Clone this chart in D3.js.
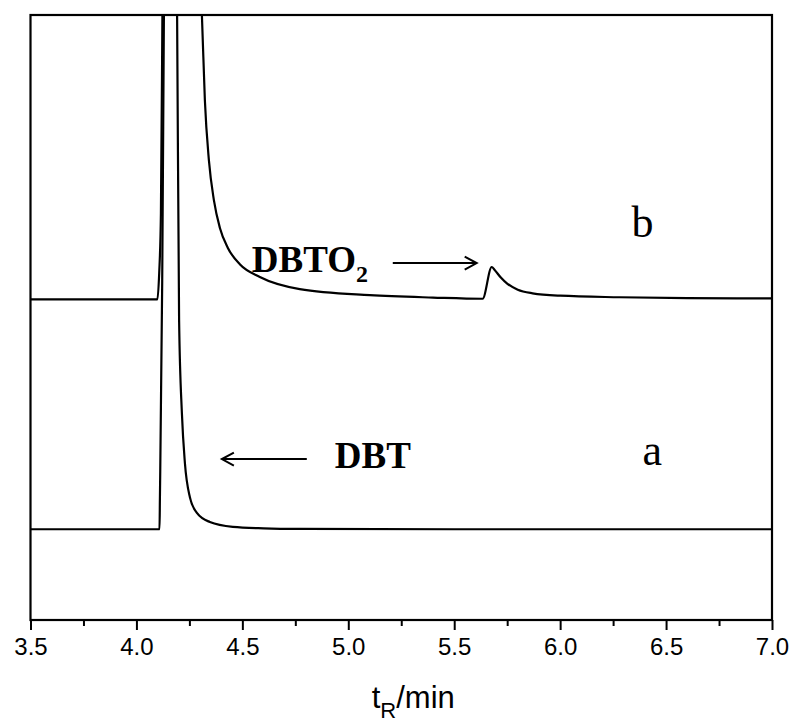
<!DOCTYPE html>
<html>
<head>
<meta charset="utf-8">
<script src="https://cdn.jsdelivr.net/npm/d3@7"></script>
<style>
  html, body { margin: 0; padding: 0; background: #fff; }
  svg { display: block; }
</style>
</head>
<body>
<svg id="chart" width="791" height="722"></svg>
<script>
// ---- data (retention time in min, detector signal in arbitrary units) ----
const timeA   = [3.5, 4.0, 4.109, 4.1108, 4.1217, 4.1297, 4.14, 4.16, 4.18, 4.192, 4.2014, 4.2146, 4.2288, 4.2524, 4.2854, 4.3467, 4.4552, 4.6, 4.771, 5.5, 6.5, 7.0];
const signalA = [15.0, 15.0, 15.0, 20, 56, 100, 150, 175, 140, 100, 49.6, 34.2, 25.95, 20.3, 17.7, 16.2, 15.4, 15.15, 15.05, 15.0, 15.0, 15.0];

const timeB   = [3.5, 4.0, 4.099, 4.1075, 4.1156, 4.1226, 4.13, 4.15, 4.2, 4.25, 4.28, 4.309, 4.323, 4.342, 4.3656, 4.394, 4.4316, 4.488, 4.5826, 4.771, 5.1014, 5.40, 5.634, 5.6771, 5.69, 5.72, 5.75, 5.80, 5.87, 6.0, 6.28, 6.6, 7.0];
const signalB = [53.0, 53.0, 53.0, 57.36, 67.27, 100, 140, 180, 170, 135, 112, 100, 85.95, 76.0, 69.4, 64.8, 61.5, 58.8, 56.7, 54.7, 53.7, 53.3, 53.1, 58.35, 57.9, 56.6, 55.6, 54.6, 54.0, 53.6, 53.35, 53.2, 53.15];

const xTicks = [3.5, 4.0, 4.5, 5.0, 5.5, 6.0, 6.5, 7.0];
const xMinorTicks = [3.75, 4.25, 4.75, 5.25, 5.75, 6.25, 6.75];
const curveLabels = ["a", "b"];
const curveLabelTime = [6.389, 6.337];
const curveLabelSignal = [25.6, 63.3];

// ---- layout ----
const svg = d3.select("#chart");
const mLeft = 30.5, mRight = 772, mTop = 15, mBottom = 620;

const x = d3.scaleLinear().domain([3.5, 7.0]).range([mLeft, mRight]);
const y = d3.scaleLinear().domain([0, 100]).range([mBottom, mTop]);

svg.append("defs").append("clipPath").attr("id", "plotclip")
  .append("rect").attr("x", mLeft).attr("y", mTop)
  .attr("width", mRight - mLeft).attr("height", mBottom - mTop);

const line = d3.line()
  .x(d => x(d[0])).y(d => y(d[1]))
  .curve(d3.curveMonotoneX);

const seriesA = timeA.map((t, i) => [t, signalA[i]]);
const seriesB = timeB.map((t, i) => [t, signalB[i]]);

const g = svg.append("g").attr("clip-path", "url(#plotclip)");
[seriesA, seriesB].forEach(s => {
  g.append("path").datum(s).attr("d", line)
    .attr("fill", "none").attr("stroke", "#000")
    .attr("stroke-width", 2.2).attr("stroke-linejoin", "round");
});

// frame
svg.append("rect").attr("x", mLeft).attr("y", mTop)
  .attr("width", mRight - mLeft).attr("height", mBottom - mTop)
  .attr("fill", "none").attr("stroke", "#000").attr("stroke-width", 2.2);

// bottom axis
const axis = d3.axisBottom(x).tickValues(xTicks).tickFormat(d3.format(".1f"))
  .tickSize(10).tickPadding(8);
const ax = svg.append("g").attr("transform", `translate(0,${mBottom})`).call(axis);
ax.select(".domain").remove();
ax.selectAll(".tick line").attr("stroke", "#000").attr("stroke-width", 2);
ax.selectAll(".tick text")
  .attr("font-family", "'Liberation Sans', Arial, sans-serif")
  .attr("font-size", 24).attr("fill", "#000");

const axMinor = d3.axisBottom(x).tickValues(xMinorTicks).tickFormat("").tickSize(6);
const axm = svg.append("g").attr("transform", `translate(0,${mBottom})`).call(axMinor);
axm.select(".domain").remove();
axm.selectAll(".tick line").attr("stroke", "#000").attr("stroke-width", 2);

// x label
const xl = svg.append("text")
  .attr("x", (mLeft + mRight) / 2 + 12).attr("y", 708)
  .attr("text-anchor", "middle")
  .attr("font-family", "'Liberation Sans', Arial, sans-serif")
  .attr("font-size", 31).attr("fill", "#000");
xl.append("tspan").text("t");
xl.append("tspan").attr("font-size", 22).attr("dy", 10).text("R");
xl.append("tspan").attr("dy", -10).text("/min");

// curve labels
curveLabels.forEach((lab, i) => {
  svg.append("text").attr("x", x(curveLabelTime[i])).attr("y", y(curveLabelSignal[i]))
    .attr("font-family", "'Liberation Serif', 'Times New Roman', serif")
    .attr("font-size", 44).attr("fill", "#000").text(lab);
});

// annotations with arrows
function arrow(t1, t2, v) {
  const x1 = x(t1), x2 = x(t2), yy = y(v);
  const dir = Math.sign(x2 - x1);
  svg.append("line").attr("x1", x1).attr("x2", x2).attr("y1", yy).attr("y2", yy)
    .attr("stroke", "#000").attr("stroke-width", 2);
  svg.append("path")
    .attr("d", `M${x2 - dir * 12},${yy - 6.5} L${x2},${yy} L${x2 - dir * 12},${yy + 6.5}`)
    .attr("fill", "none").attr("stroke", "#000").attr("stroke-width", 2)
    .attr("stroke-linejoin", "miter");
}

arrow(4.8042, 4.4033, 26.6);
svg.append("text").attr("x", x(4.9363)).attr("y", y(25.1))
  .attr("font-family", "'Liberation Serif', 'Times New Roman', serif")
  .attr("font-weight", "bold").attr("font-size", 37).attr("fill", "#000").text("DBT");

arrow(5.21, 5.6061, 59.0);
const t2 = svg.append("text").attr("x", x(4.5448)).attr("y", y(57.5))
  .attr("font-family", "'Liberation Serif', 'Times New Roman', serif")
  .attr("font-weight", "bold").attr("font-size", 37).attr("fill", "#000");
t2.append("tspan").text("DBTO");
t2.append("tspan").attr("font-size", 24).attr("dy", 10).text("2");
</script>
</body>
</html>
